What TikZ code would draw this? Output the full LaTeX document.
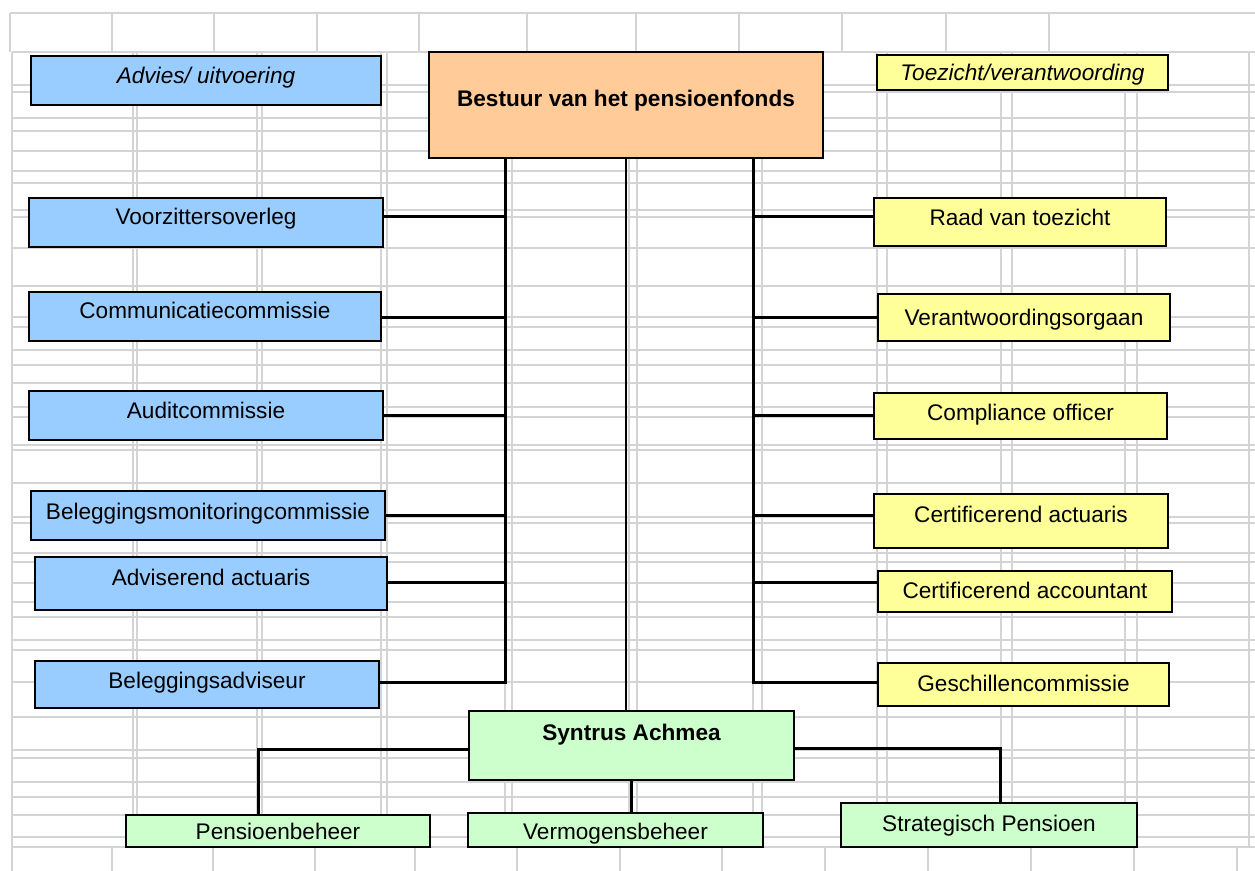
\documentclass[tikz,border=0pt]{standalone}
\usepackage{fontspec}
\setmainfont{Liberation Sans}
\usepackage{xcolor}
\definecolor{advblue}{HTML}{99CCFF}
\definecolor{toeyellow}{HTML}{FFFF99}
\definecolor{bestorange}{HTML}{FFCC99}
\definecolor{syntgreen}{HTML}{CCFFCC}
\definecolor{cellgrey}{HTML}{D4D4D4}

\begin{document}
\begin{tikzpicture}[x=0.5pt,y=-0.5pt,
  orgbox/.style={draw, line width=1pt, inner sep=0pt, text height=8.1pt,
    font=\fontsize{11.3}{13}\selectfont},
  lift/.style={text depth=#1pt},
  advbox/.style={orgbox, fill=advblue},
  toebox/.style={orgbox, fill=toeyellow},
  synbox/.style={orgbox, fill=syntgreen},
  spine/.style={line width=1.5pt},
  gridline/.style={cellgrey, line width=1.1pt}]
\useasboundingbox (0,0) rectangle (1255,871);
% spreadsheet grid behind the chart
\draw [gridline] (10,13) -- (1255,13);
\foreach \y in {52,85,92,118,131,151,171,183,210,217,248,286,317,327,350,365,383,407,417,445,450,483,517,523,553,562,583,602,617,640,650,682,717,750,758,782,797,815,837,847}
  \draw [gridline] (12,\y) -- (1255,\y);
\foreach \x in {10,112,214,317,419,527,636,739,842,946,1049}
  \draw [gridline] (\x,13) -- (\x,52);
\foreach \x in {12,137,262,387,512,637,762,887,1012,1137}
  \draw [gridline] (\x,52) -- (\x,847);
\foreach \x in {133,257,381,505,629,753,877,1001,1125,1249}
  \draw [gridline] (\x,52) -- (\x,847);
\foreach \x in {12,112,213,315,415,517,620,722,825,928,1031,1134,1237}
  \draw [gridline] (\x,847) -- (\x,871);

% top
\node [orgbox, fill=bestorange, minimum width=197pt, minimum height=53pt, lift=7,
  font=\fontsize{11.3}{13}\selectfont\bfseries] (bestuur) at (626,105) {Bestuur van het pensioenfonds};
\node [advbox, minimum width=175pt, minimum height=24.5pt, lift=5.5, font=\fontsize{11.3}{13}\selectfont\itshape] (advies) at (206,80.5) {Advies/ uitvoering};
\node [toebox, minimum width=145.5pt, minimum height=17.5pt, lift=0.5, font=\fontsize{11.3}{13}\selectfont\itshape] (toezicht) at (1022.5,72.5) {Toezicht/verantwoording};

% left column
\node [advbox, minimum width=177pt, minimum height=24.5pt, lift=6.5] (voorz) at (206,222.5) {Voorzittersoverleg};
\node [advbox, minimum width=176pt, minimum height=24.5pt, lift=6.5] (comm) at (205,316.5) {Communicatiecommissie};
\node [advbox, minimum width=177pt, minimum height=24.5pt, lift=5.5] (audit) at (206,415.5) {Auditcommissie};
\node [advbox, minimum width=177pt, minimum height=24.5pt, lift=4.5] (belegmon) at (208,515.5) {Beleggingsmonitoringcommissie};
\node [advbox, minimum width=176pt, minimum height=26.5pt, lift=6.5] (advact) at (211,583.5) {Adviserend actuaris};
\node [advbox, minimum width=172pt, minimum height=23.5pt, lift=4.5] (belegadv) at (207,684.5) {Beleggingsadviseur};

% right column
\node [toebox, minimum width=146pt, minimum height=24pt, lift=5] (raad) at (1020,222) {Raad van toezicht};
\node [toebox, minimum width=146pt, minimum height=23.5pt, lift=0] (verant) at (1024,317.5) {Verantwoordingsorgaan};
\node [toebox, minimum width=146.5pt, minimum height=23pt, lift=4] (compl) at (1020.5,416) {Compliance officer};
\node [toebox, minimum width=147pt, minimum height=27pt, lift=7] (certact) at (1021,521) {Certificerend actuaris};
\node [toebox, minimum width=147pt, minimum height=20.5pt, lift=1.5] (certacc) at (1025,591.5) {Certificerend accountant};
\node [toebox, minimum width=145.5pt, minimum height=21.5pt, lift=1.5] (gesch) at (1023.5,684.5) {Geschillencommissie};

% bottom
\node [synbox, minimum width=162.5pt, minimum height=34.5pt, lift=13.5,
  font=\fontsize{11.3}{13}\selectfont\bfseries] (syntrus) at (631.5,745.5) {Syntrus Achmea};
\node [synbox, minimum width=152pt, minimum height=16pt, lift=0, text height=9pt] (pensb) at (278,831) {Pensioenbeheer};
\node [synbox, minimum width=147.5pt, minimum height=17pt, lift=0, text height=9.5pt] (vermb) at (615.5,830) {Vermogensbeheer};
\node [synbox, minimum width=148pt, minimum height=22pt, lift=2] (strat) at (989,825) {Strategisch Pensioen};

% spines
\coordinate (l1) at (505,217);
\coordinate (l2) at (505,318);
\coordinate (l3) at (505,416);
\coordinate (l4) at (505,516);
\coordinate (l5) at (505,583);
\coordinate (l6) at (505,683);
\coordinate (r1) at (753,217);
\coordinate (r2) at (753,318);
\coordinate (r3) at (753,416);
\coordinate (r4) at (753,516);
\coordinate (r5) at (753,583);
\coordinate (r6) at (753,683);
\draw [spine] (l1 |- bestuur.south) -- (l6) -- (l6 -| belegadv.east);
\draw [spine] (r1 |- bestuur.south) -- (r6) -- (r6 -| gesch.west);
\draw [line width=0.65pt] (bestuur.south) -- (bestuur.south |- syntrus.north);

% left branches
\draw [spine] (l1) -- (l1 -| voorz.east);
\draw [spine] (l2) -- (l2 -| comm.east);
\draw [spine] (l3) -- (l3 -| audit.east);
\draw [spine] (l4) -- (l4 -| belegmon.east);
\draw [spine] (l5) -- (l5 -| advact.east);

% right branches
\draw [spine] (r1) -- (r1 -| raad.west);
\draw [spine] (r2) -- (r2 -| verant.west);
\draw [spine] (r3) -- (r3 -| compl.west);
\draw [spine] (r4) -- (r4 -| certact.west);
\draw [spine] (r5) -- (r5 -| certacc.west);

% Syntrus Achmea
\coordinate (sl) at (258,750);
\coordinate (sr) at (1000,749);
\draw [spine] (syntrus.west |- sl) -- (sl) -- (sl |- pensb.north);
\draw [spine] (syntrus.east |- sr) -- (sr) -- (sr |- strat.north);
\draw [spine] (syntrus.south) -- (syntrus.south |- vermb.north);
\end{tikzpicture}
\end{document}
